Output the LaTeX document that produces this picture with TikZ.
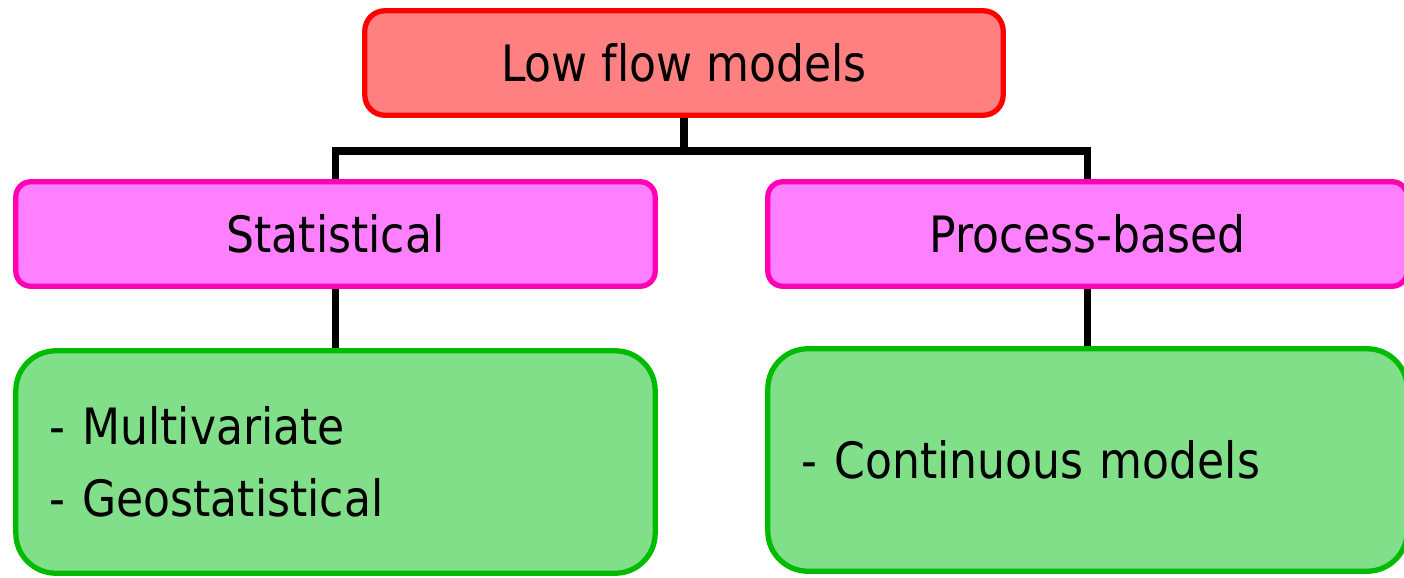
\documentclass[tikz,border=0pt]{standalone}
\usepackage{fontspec}
\setmainfont{DejaVu Sans}[FakeStretch=0.88, Ligatures=NoCommon]
\usepackage{color}

\definecolor{topfill}{HTML}{FF8080}
\definecolor{midfill}{HTML}{FF80FF}
\definecolor{midline}{HTML}{FF00B4}
\definecolor{lowfill}{HTML}{80DF88}
\definecolor{lowline}{HTML}{00BB00}

\begin{document}
\begin{tikzpicture}[%
      x=0.02cm, y=-0.02cm,
      every node/.style={font=\fontsize{28.5}{41}\selectfont},
      topbox/.style={draw=red, fill=topfill, line width=3pt,
        rounded corners=0.4cm, minimum width=12.77cm, minimum height=2.09cm},
      midbox/.style={draw=midline, fill=midfill, line width=3pt,
        rounded corners=0.3cm, minimum width=12.79cm, minimum height=2.09cm},
      lowbox/.style={draw=lowline, fill=lowfill, line width=3pt,
        rounded corners=0.8cm, minimum width=12.79cm, minimum height=4.45cm,
        text width=11.43cm, align=left, inner xsep=0.68cm},
      link/.style={draw=black, line width=4pt},
      ]
      \useasboundingbox (0,0) rectangle (1404,578);

      \node [topbox] (low) at (684,63) {Low flow models};
      \node [midbox] (stat) at (335.5,234) {Statistical};
      \node [midbox] (proc) at (1087.5,234) {Process-based};
      \node [lowbox] (multi) at (335.5,462) {- Multivariate\\- Geostatistical};
      \node [lowbox] (cont) at (1087.5,460) {- Continuous models};

      \coordinate (bus) at (684,151);
      \draw [link] (low.south) -- (bus) -| (stat.north);
      \draw [link] (bus) -| (proc.north);
      \draw [link] (stat.south) -- (multi.north);
      \draw [link] (proc.south) -- (cont.north);
      \end{tikzpicture}
\end{document}
